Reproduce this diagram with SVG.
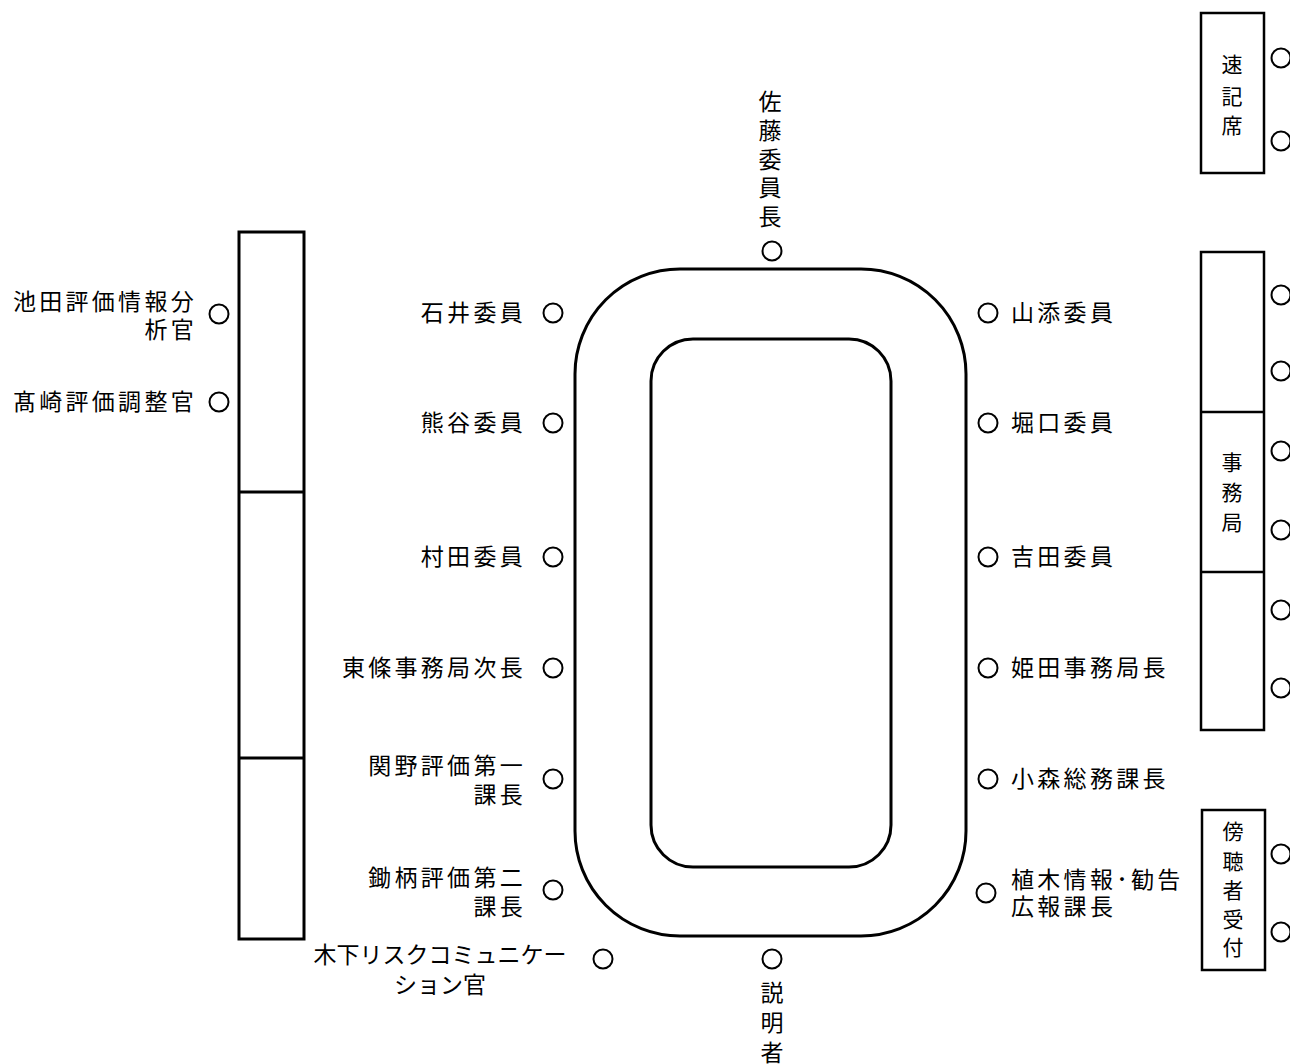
<svg xmlns="http://www.w3.org/2000/svg" width="1290" height="1064" viewBox="0 0 1290 1064">
<style>
text{font-family:"Noto Sans CJK JP","Liberation Sans",sans-serif;font-size:23px;fill:#000}
.l{text-anchor:end;letter-spacing:3.3px}
.r{text-anchor:start;letter-spacing:3.3px}
.v{text-anchor:middle;font-size:21px}
.seat{fill:none;stroke:#000;stroke-width:2}
.tbl{fill:none;stroke:#000;stroke-width:3}
.box{fill:#fff;stroke:#000;stroke-width:2.5}
</style>
<rect width="1290" height="1064" fill="#fff"/>
<g id="table">
<rect class="tbl" x="575" y="269" width="391" height="667" rx="105" ry="105"/>
<rect class="tbl" x="651" y="339" width="240" height="528" rx="42" ry="42"/>
</g>
<g id="left-bench">
<rect class="tbl" x="239" y="232" width="65" height="707"/>
<line class="tbl" x1="239" y1="492" x2="304" y2="492"/>
<line class="tbl" x1="239" y1="758" x2="304" y2="758"/>
</g>
<g id="sokki">
<rect class="box" x="1201" y="13" width="63" height="160"/>
<text class="v" x="1232"><tspan x="1232" y="72">速</tspan><tspan x="1232" y="104">記</tspan><tspan x="1232" y="133">席</tspan></text>
<circle class="seat" cx="1281" cy="58" r="9.5"/>
<circle class="seat" cx="1281" cy="141" r="9.5"/>
</g>
<g id="jimukyoku">
<rect class="box" x="1201" y="252" width="63" height="478"/>
<line class="box" x1="1201" y1="412" x2="1264" y2="412"/>
<line class="box" x1="1201" y1="572" x2="1264" y2="572"/>
<text class="v" x="1232"><tspan x="1232" y="470">事</tspan><tspan x="1232" y="500">務</tspan><tspan x="1232" y="530">局</tspan></text>
<circle class="seat" cx="1281" cy="295" r="9.5"/>
<circle class="seat" cx="1281" cy="371" r="9.5"/>
<circle class="seat" cx="1281" cy="451" r="9.5"/>
<circle class="seat" cx="1281" cy="530" r="9.5"/>
<circle class="seat" cx="1281" cy="610" r="9.5"/>
<circle class="seat" cx="1281" cy="688" r="9.5"/>
</g>
<g id="bouchou">
<rect class="box" x="1202" y="810" width="63" height="160"/>
<text class="v" x="1233"><tspan x="1233" y="839">傍</tspan><tspan x="1233" y="869">聴</tspan><tspan x="1233" y="898">者</tspan><tspan x="1233" y="927">受</tspan><tspan x="1233" y="955">付</tspan></text>
<circle class="seat" cx="1281" cy="854" r="9.5"/>
<circle class="seat" cx="1281" cy="932" r="9.5"/>
</g>
<g id="chair">
<text class="v" x="770" style="font-size:23px"><tspan x="770" y="110">佐</tspan><tspan x="770" y="139">藤</tspan><tspan x="770" y="168">委</tspan><tspan x="770" y="196">員</tspan><tspan x="770" y="225">長</tspan></text>
<circle class="seat" cx="772" cy="251" r="9.5"/>
</g>
<g id="setsumeisha">
<circle class="seat" cx="772" cy="959" r="9.5"/>
<text class="v" x="772" style="font-size:23px"><tspan x="772" y="1001">説</tspan><tspan x="772" y="1031">明</tspan><tspan x="772" y="1061">者</tspan></text>
</g>
<g id="left-seats">
<text class="l" x="526" y="321">石井委員</text>
<circle class="seat" cx="553" cy="313" r="9.5"/>
<text class="l" x="526" y="431">熊谷委員</text>
<circle class="seat" cx="553" cy="423" r="9.5"/>
<text class="l" x="526" y="565">村田委員</text>
<circle class="seat" cx="553" cy="557" r="9.5"/>
<text class="l" x="526" y="676">東條事務局次長</text>
<circle class="seat" cx="553" cy="668" r="9.5"/>
<text class="l" x="526" y="774">関野評価第一</text>
<text class="l" x="526" y="803">課長</text>
<circle class="seat" cx="553" cy="779" r="9.5"/>
<text class="l" x="526" y="886">鋤柄評価第二</text>
<text class="l" x="526" y="915">課長</text>
<circle class="seat" cx="553" cy="890" r="9.5"/>
<text x="440" y="963" text-anchor="middle">木下リスクコミュニケー</text>
<text x="440" y="993" text-anchor="middle">ション官</text>
<circle class="seat" cx="603" cy="959" r="9.5"/>
</g>
<g id="right-seats">
<circle class="seat" cx="988" cy="313" r="9.5"/>
<text class="r" x="1011" y="321">山添委員</text>
<circle class="seat" cx="988" cy="423" r="9.5"/>
<text class="r" x="1011" y="431">堀口委員</text>
<circle class="seat" cx="988" cy="557" r="9.5"/>
<text class="r" x="1011" y="565">吉田委員</text>
<circle class="seat" cx="988" cy="668" r="9.5"/>
<text class="r" x="1011" y="676">姫田事務局長</text>
<circle class="seat" cx="988" cy="779" r="9.5"/>
<text class="r" x="1011" y="787">小森総務課長</text>
<circle class="seat" cx="986" cy="893" r="9.5"/>
<text class="r" x="1011" y="888">植木情報･勧告</text>
<text class="r" x="1011" y="915">広報課長</text>
</g>
<g id="far-left">
<text class="l" x="197" y="310">池田評価情報分</text>
<text class="l" x="197" y="338">析官</text>
<circle class="seat" cx="219" cy="314" r="9.5"/>
<text class="l" x="197" y="410">髙崎評価調整官</text>
<circle class="seat" cx="219" cy="402" r="9.5"/>
</g>
</svg>
